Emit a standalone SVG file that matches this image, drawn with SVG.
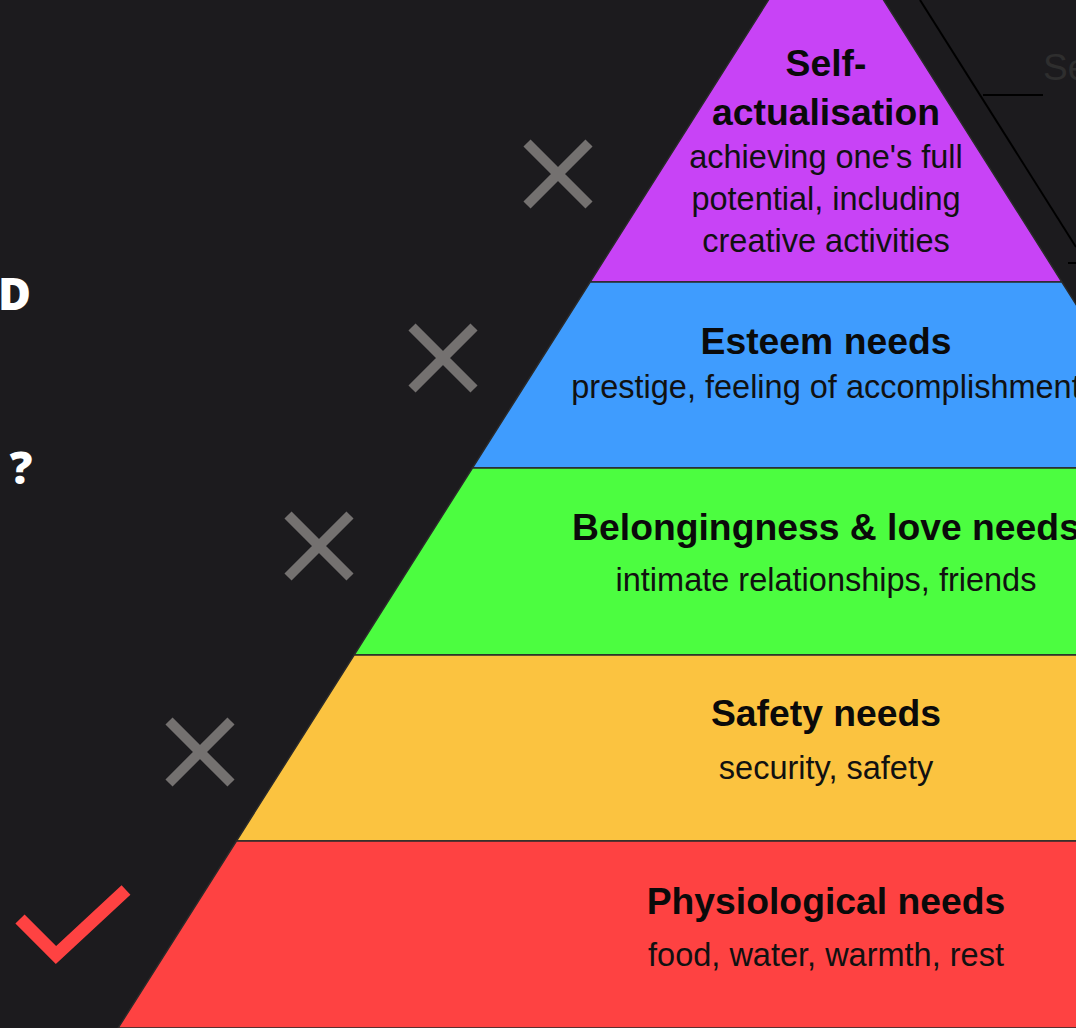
<svg xmlns="http://www.w3.org/2000/svg" width="1076" height="1028" viewBox="0 0 1076 1028">
<style>
.bg{fill:#1c1b1e}
.band{stroke:#2a2a2a;stroke-width:1.5;stroke-linejoin:miter}
.t{font-family:"Liberation Sans",Arial,sans-serif;font-weight:700;font-size:37.3px;fill:#0a0a0a;text-anchor:middle}
.s{font-family:"Liberation Sans",Arial,sans-serif;font-size:32.5px;fill:#111;text-anchor:middle}
.x{stroke:#747170;stroke-width:10;stroke-linecap:butt;fill:none}
.w{font-family:"Open Sans","Noto Sans",sans-serif;font-weight:800;font-size:45px;fill:#ffffff}
</style>
<rect class="bg" x="0" y="0" width="1076" height="1028"/>
<g id="left-text">
<text class="w" x="31" y="310" text-anchor="end">D</text>
<text class="w" x="21" y="484" text-anchor="middle">?</text>
</g>
<g id="marks">
<g id="x1"><path class="x" d="M527 143 L589 205 M589 143 L527 205"/></g>
<g id="x2"><path class="x" d="M412 327 L474 389 M474 327 L412 389"/></g>
<g id="x3"><path class="x" d="M288 515 L350 577 M350 515 L288 577"/></g>
<g id="x4"><path class="x" d="M169 721 L231 783 M231 721 L169 783"/></g>
<g id="check"><polyline points="20,919 56,955 126,890" fill="none" stroke="#fe4242" stroke-width="13" stroke-linecap="butt" stroke-linejoin="miter"/></g>
</g>
<g id="pyramid">
<g id="self-actualisation">
<polygon class="band" fill="#c843f6" points="826,-91 1061.9,282 590.1,282"/>
<text class="t" x="826" y="76">Self-</text>
<text class="t" x="826" y="125">actualisation</text>
<text class="s" x="826" y="168">achieving one's full</text>
<text class="s" x="826" y="210">potential, including</text>
<text class="s" x="826" y="252">creative activities</text>
</g>
<g id="esteem">
<polygon class="band" fill="#3f9cfe" points="590.1,282 1061.9,282 1179.6,468 472.4,468"/>
<text class="t" x="826" y="354">Esteem needs</text>
<text class="s" x="826" y="398">prestige, feeling of accomplishment</text>
</g>
<g id="belonging">
<polygon class="band" fill="#4cfd40" points="472.4,468 1179.6,468 1297.9,655 354.1,655"/>
<text class="t" x="826" y="540">Belongingness &amp; love needs</text>
<text class="s" x="826" y="591">intimate relationships, friends</text>
</g>
<g id="safety">
<polygon class="band" fill="#fbc340" points="354.1,655 1297.9,655 1415.6,841 236.4,841"/>
<text class="t" x="826" y="726">Safety needs</text>
<text class="s" x="826" y="779">security, safety</text>
</g>
<g id="physiological">
<polygon class="band" fill="#fe4242" points="236.4,841 1415.6,841 1533,1028 118.1,1028"/>
<text class="t" x="826" y="914">Physiological needs</text>
<text class="s" x="826" y="966">food, water, warmth, rest</text>
</g>
</g>
<g id="connectors">
<line x1="920" y1="0" x2="1076" y2="247" stroke="#000" stroke-width="2"/>
<line x1="983" y1="95" x2="1043" y2="95" stroke="#000" stroke-width="2"/>
<line x1="1068" y1="263" x2="1076" y2="263" stroke="#000" stroke-width="2"/>
</g>
<g id="side-label">
<text x="1043" y="80" font-family="Liberation Sans, Arial, sans-serif" font-size="37" fill="#2e2e2e">Se</text>
</g>
</svg>
